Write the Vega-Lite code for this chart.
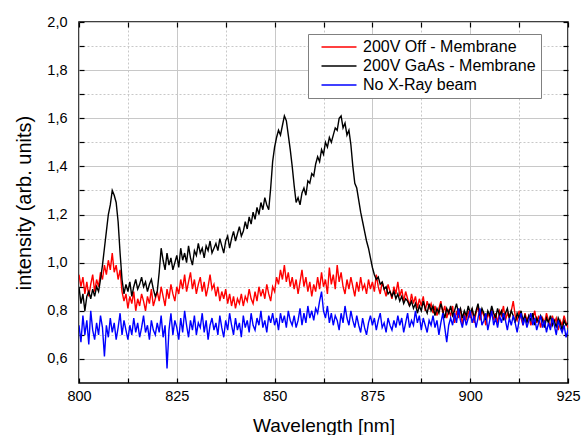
{
"$schema": "https://vega.github.io/schema/vega-lite/v6.json",
"width": 489, "height": 361,
"autosize": "none",
"padding": {"left": 79, "top": 22, "right": 15, "bottom": 52},
"background": "white",
"config": {"font": "Liberation Sans", "view": {"stroke": "black", "strokeWidth": 1.5}},
"data": {"values": [
{"x":800,"r":0.95,"k":0.90,"b":0.74},{"x":800.5,"r":0.90,"k":0.83,"b":0.67},{"x":801,"r":0.94,"k":0.87,"b":0.78},{"x":801.5,"r":0.87,"k":0.80,"b":0.70},{"x":802,"r":0.92,"k":0.86,"b":0.76},{"x":802.5,"r":0.86,"k":0.88,"b":0.66},{"x":803,"r":0.91,"k":0.85,"b":0.80},{"x":803.5,"r":0.95,"k":0.89,"b":0.72},{"x":804,"r":0.88,"k":0.86,"b":0.68},{"x":804.5,"r":0.93,"k":0.90,"b":0.75},
{"x":805,"r":0.90,"k":0.88,"b":0.70},{"x":805.5,"r":0.96,"k":0.93,"b":0.78},{"x":806,"r":0.93,"k":0.99,"b":0.73},{"x":806.5,"r":0.99,"k":1.06,"b":0.61},{"x":807,"r":0.95,"k":1.13,"b":0.74},{"x":807.5,"r":1.01,"k":1.20,"b":0.69},{"x":808,"r":0.97,"k":1.24,"b":0.77},{"x":808.5,"r":1.04,"k":1.30,"b":0.71},{"x":809,"r":0.96,"k":1.28,"b":0.75},{"x":809.5,"r":0.99,"k":1.25,"b":0.68},
{"x":810,"r":0.93,"k":1.17,"b":0.73},{"x":810.5,"r":0.97,"k":1.04,"b":0.79},{"x":811,"r":0.88,"k":0.93,"b":0.70},{"x":811.5,"r":0.84,"k":0.87,"b":0.76},{"x":812,"r":0.87,"k":0.91,"b":0.72},{"x":812.5,"r":0.81,"k":0.88,"b":0.68},{"x":813,"r":0.86,"k":0.92,"b":0.74},{"x":813.5,"r":0.83,"k":0.86,"b":0.70},{"x":814,"r":0.88,"k":0.90,"b":0.77},{"x":814.5,"r":0.80,"k":0.93,"b":0.71},
{"x":815,"r":0.85,"k":0.89,"b":0.75},{"x":815.5,"r":0.82,"k":0.91,"b":0.69},{"x":816,"r":0.87,"k":0.94,"b":0.73},{"x":816.5,"r":0.84,"k":0.90,"b":0.78},{"x":817,"r":0.80,"k":0.92,"b":0.71},{"x":817.5,"r":0.86,"k":0.88,"b":0.74},{"x":818,"r":0.83,"k":0.91,"b":0.68},{"x":818.5,"r":0.89,"k":0.93,"b":0.76},{"x":819,"r":0.82,"k":0.89,"b":0.72},{"x":819.5,"r":0.85,"k":0.86,"b":0.70},
{"x":820,"r":0.88,"k":0.88,"b":0.75},{"x":820.5,"r":0.84,"k":0.96,"b":0.71},{"x":821,"r":0.90,"k":1.06,"b":0.78},{"x":821.5,"r":0.86,"k":1.01,"b":0.69},{"x":822,"r":0.82,"k":0.97,"b":0.74},{"x":822.5,"r":0.89,"k":1.04,"b":0.56},{"x":823,"r":0.85,"k":0.99,"b":0.72},{"x":823.5,"r":0.91,"k":1.02,"b":0.79},{"x":824,"r":0.87,"k":0.97,"b":0.70},{"x":824.5,"r":0.84,"k":1.00,"b":0.76},
{"x":825,"r":0.90,"k":1.03,"b":0.73},{"x":825.5,"r":0.87,"k":0.98,"b":0.68},{"x":826,"r":0.93,"k":1.06,"b":0.77},{"x":826.5,"r":0.89,"k":1.01,"b":0.71},{"x":827,"r":0.95,"k":1.04,"b":0.80},{"x":827.5,"r":0.88,"k":1.00,"b":0.74},{"x":828,"r":0.92,"k":1.07,"b":0.69},{"x":828.5,"r":0.96,"k":1.02,"b":0.76},{"x":829,"r":0.89,"k":0.99,"b":0.72},{"x":829.5,"r":0.93,"k":1.05,"b":0.78},
{"x":830,"r":0.87,"k":1.03,"b":0.70},{"x":830.5,"r":0.91,"k":1.08,"b":0.75},{"x":831,"r":0.94,"k":1.04,"b":0.73},{"x":831.5,"r":0.88,"k":1.06,"b":0.79},{"x":832,"r":0.92,"k":1.02,"b":0.71},{"x":832.5,"r":0.86,"k":1.07,"b":0.76},{"x":833,"r":0.90,"k":1.05,"b":0.68},{"x":833.5,"r":0.95,"k":1.09,"b":0.74},{"x":834,"r":0.89,"k":1.04,"b":0.77},{"x":834.5,"r":0.91,"k":1.06,"b":0.72},
{"x":835,"r":0.86,"k":1.08,"b":0.75},{"x":835.5,"r":0.90,"k":1.05,"b":0.70},{"x":836,"r":0.84,"k":1.10,"b":0.78},{"x":836.5,"r":0.88,"k":1.07,"b":0.73},{"x":837,"r":0.85,"k":1.04,"b":0.69},{"x":837.5,"r":0.89,"k":1.09,"b":0.76},{"x":838,"r":0.83,"k":1.11,"b":0.72},{"x":838.5,"r":0.87,"k":1.06,"b":0.79},{"x":839,"r":0.82,"k":1.10,"b":0.74},{"x":839.5,"r":0.86,"k":1.13,"b":0.70},
{"x":840,"r":0.81,"k":1.09,"b":0.77},{"x":840.5,"r":0.85,"k":1.12,"b":0.72},{"x":841,"r":0.83,"k":1.15,"b":0.75},{"x":841.5,"r":0.87,"k":1.11,"b":0.69},{"x":842,"r":0.82,"k":1.13,"b":0.78},{"x":842.5,"r":0.86,"k":1.17,"b":0.73},{"x":843,"r":0.84,"k":1.14,"b":0.76},{"x":843.5,"r":0.89,"k":1.19,"b":0.71},{"x":844,"r":0.85,"k":1.16,"b":0.79},{"x":844.5,"r":0.83,"k":1.21,"b":0.74},
{"x":845,"r":0.88,"k":1.18,"b":0.72},{"x":845.5,"r":0.84,"k":1.23,"b":0.77},{"x":846,"r":0.90,"k":1.20,"b":0.74},{"x":846.5,"r":0.86,"k":1.25,"b":0.80},{"x":847,"r":0.89,"k":1.22,"b":0.73},{"x":847.5,"r":0.85,"k":1.27,"b":0.76},{"x":848,"r":0.91,"k":1.24,"b":0.71},{"x":848.5,"r":0.87,"k":1.22,"b":0.78},{"x":849,"r":0.84,"k":1.31,"b":0.75},{"x":849.5,"r":0.90,"k":1.42,"b":0.79},
{"x":850,"r":0.88,"k":1.48,"b":0.74},{"x":850.5,"r":0.94,"k":1.52,"b":0.77},{"x":851,"r":0.91,"k":1.55,"b":0.72},{"x":851.5,"r":0.97,"k":1.53,"b":0.79},{"x":852,"r":0.93,"k":1.57,"b":0.75},{"x":852.5,"r":0.99,"k":1.61,"b":0.78},{"x":853,"r":0.92,"k":1.59,"b":0.73},{"x":853.5,"r":0.96,"k":1.53,"b":0.80},{"x":854,"r":0.90,"k":1.47,"b":0.76},{"x":854.5,"r":0.94,"k":1.40,"b":0.74},
{"x":855,"r":0.89,"k":1.32,"b":0.78},{"x":855.5,"r":0.93,"k":1.25,"b":0.73},{"x":856,"r":0.87,"k":1.27,"b":0.76},{"x":856.5,"r":0.92,"k":1.24,"b":0.81},{"x":857,"r":0.97,"k":1.29,"b":0.74},{"x":857.5,"r":0.90,"k":1.31,"b":0.79},{"x":858,"r":0.94,"k":1.28,"b":0.75},{"x":858.5,"r":0.88,"k":1.34,"b":0.82},{"x":859,"r":0.92,"k":1.33,"b":0.77},{"x":859.5,"r":0.86,"k":1.37,"b":0.80},
{"x":860,"r":0.91,"k":1.36,"b":0.76},{"x":860.5,"r":0.88,"k":1.41,"b":0.81},{"x":861,"r":0.94,"k":1.44,"b":0.79},{"x":861.5,"r":0.89,"k":1.42,"b":0.84},{"x":862,"r":0.96,"k":1.47,"b":0.88},{"x":862.5,"r":0.90,"k":1.45,"b":0.80},{"x":863,"r":0.93,"k":1.50,"b":0.77},{"x":863.5,"r":0.87,"k":1.48,"b":0.82},{"x":864,"r":0.98,"k":1.52,"b":0.75},{"x":864.5,"r":0.91,"k":1.50,"b":0.79},
{"x":865,"r":0.95,"k":1.53,"b":0.74},{"x":865.5,"r":0.89,"k":1.56,"b":0.78},{"x":866,"r":0.99,"k":1.55,"b":0.76},{"x":866.5,"r":0.92,"k":1.60,"b":0.72},{"x":867,"r":0.96,"k":1.61,"b":0.79},{"x":867.5,"r":0.90,"k":1.56,"b":0.75},{"x":868,"r":0.87,"k":1.58,"b":0.82},{"x":868.5,"r":0.93,"k":1.53,"b":0.77},{"x":869,"r":0.89,"k":1.55,"b":0.74},{"x":869.5,"r":0.94,"k":1.49,"b":0.80},
{"x":870,"r":0.90,"k":1.40,"b":0.76},{"x":870.5,"r":0.86,"k":1.33,"b":0.73},{"x":871,"r":0.92,"k":1.31,"b":0.78},{"x":871.5,"r":0.88,"k":1.26,"b":0.74},{"x":872,"r":0.94,"k":1.21,"b":0.71},{"x":872.5,"r":0.89,"k":1.17,"b":0.77},{"x":873,"r":0.91,"k":1.13,"b":0.73},{"x":873.5,"r":0.87,"k":1.09,"b":0.70},{"x":874,"r":0.93,"k":1.06,"b":0.75},{"x":874.5,"r":0.89,"k":1.02,"b":0.78},
{"x":875,"r":0.92,"k":0.98,"b":0.74},{"x":875.5,"r":0.88,"k":0.95,"b":0.77},{"x":876,"r":0.95,"k":0.93,"b":0.72},{"x":876.5,"r":0.90,"k":0.94,"b":0.76},{"x":877,"r":0.87,"k":0.91,"b":0.79},{"x":877.5,"r":0.92,"k":0.92,"b":0.73},{"x":878,"r":0.89,"k":0.89,"b":0.75},{"x":878.5,"r":0.86,"k":0.90,"b":0.71},{"x":879,"r":0.91,"k":0.87,"b":0.77},{"x":879.5,"r":0.88,"k":0.88,"b":0.74},
{"x":880,"r":0.85,"k":0.86,"b":0.72},{"x":880.5,"r":0.90,"k":0.88,"b":0.76},{"x":881,"r":0.87,"k":0.85,"b":0.73},{"x":881.5,"r":0.92,"k":0.87,"b":0.78},{"x":882,"r":0.86,"k":0.84,"b":0.74},{"x":882.5,"r":0.89,"k":0.86,"b":0.77},{"x":883,"r":0.84,"k":0.83,"b":0.71},{"x":883.5,"r":0.88,"k":0.85,"b":0.75},{"x":884,"r":0.85,"k":0.84,"b":0.79},{"x":884.5,"r":0.82,"k":0.82,"b":0.73},
{"x":885,"r":0.87,"k":0.84,"b":0.76},{"x":885.5,"r":0.83,"k":0.81,"b":0.74},{"x":886,"r":0.86,"k":0.83,"b":0.80},{"x":886.5,"r":0.81,"k":0.79,"b":0.75},{"x":887,"r":0.85,"k":0.82,"b":0.78},{"x":887.5,"r":0.82,"k":0.80,"b":0.72},{"x":888,"r":0.86,"k":0.84,"b":0.77},{"x":888.5,"r":0.80,"k":0.81,"b":0.74},{"x":889,"r":0.84,"k":0.79,"b":0.71},{"x":889.5,"r":0.81,"k":0.83,"b":0.76},
{"x":890,"r":0.83,"k":0.80,"b":0.74},{"x":890.5,"r":0.79,"k":0.82,"b":0.78},{"x":891,"r":0.82,"k":0.78,"b":0.73},{"x":891.5,"r":0.78,"k":0.81,"b":0.76},{"x":892,"r":0.81,"k":0.79,"b":0.70},{"x":892.5,"r":0.84,"k":0.83,"b":0.75},{"x":893,"r":0.79,"k":0.80,"b":0.79},{"x":893.5,"r":0.82,"k":0.77,"b":0.73},{"x":894,"r":0.77,"k":0.81,"b":0.67},{"x":894.5,"r":0.80,"k":0.79,"b":0.74},
{"x":895,"r":0.78,"k":0.82,"b":0.77},{"x":895.5,"r":0.82,"k":0.78,"b":0.74},{"x":896,"r":0.75,"k":0.80,"b":0.79},{"x":896.5,"r":0.80,"k":0.83,"b":0.75},{"x":897,"r":0.77,"k":0.79,"b":0.81},{"x":897.5,"r":0.81,"k":0.81,"b":0.76},{"x":898,"r":0.74,"k":0.77,"b":0.73},{"x":898.5,"r":0.79,"k":0.80,"b":0.78},{"x":899,"r":0.76,"k":0.78,"b":0.74},{"x":899.5,"r":0.80,"k":0.82,"b":0.77},
{"x":900,"r":0.77,"k":0.79,"b":0.80},{"x":900.5,"r":0.81,"k":0.81,"b":0.75},{"x":901,"r":0.75,"k":0.77,"b":0.78},{"x":901.5,"r":0.79,"k":0.80,"b":0.73},{"x":902,"r":0.82,"k":0.83,"b":0.77},{"x":902.5,"r":0.76,"k":0.78,"b":0.81},{"x":903,"r":0.80,"k":0.81,"b":0.74},{"x":903.5,"r":0.78,"k":0.79,"b":0.76},{"x":904,"r":0.74,"k":0.76,"b":0.79},{"x":904.5,"r":0.79,"k":0.80,"b":0.72},
{"x":905,"r":0.77,"k":0.78,"b":0.76},{"x":905.5,"r":0.81,"k":0.82,"b":0.80},{"x":906,"r":0.76,"k":0.79,"b":0.74},{"x":906.5,"r":0.79,"k":0.77,"b":0.77},{"x":907,"r":0.75,"k":0.81,"b":0.73},{"x":907.5,"r":0.80,"k":0.78,"b":0.78},{"x":908,"r":0.78,"k":0.80,"b":0.75},{"x":908.5,"r":0.82,"k":0.76,"b":0.79},{"x":909,"r":0.76,"k":0.79,"b":0.76},{"x":909.5,"r":0.79,"k":0.81,"b":0.72},
{"x":910,"r":0.77,"k":0.77,"b":0.77},{"x":910.5,"r":0.80,"k":0.80,"b":0.74},{"x":911,"r":0.84,"k":0.78,"b":0.78},{"x":911.5,"r":0.78,"k":0.75,"b":0.75},{"x":912,"r":0.76,"k":0.79,"b":0.71},{"x":912.5,"r":0.80,"k":0.77,"b":0.76},{"x":913,"r":0.77,"k":0.80,"b":0.79},{"x":913.5,"r":0.74,"k":0.76,"b":0.74},{"x":914,"r":0.79,"k":0.78,"b":0.77},{"x":914.5,"r":0.76,"k":0.75,"b":0.73},
{"x":915,"r":0.78,"k":0.78,"b":0.76},{"x":915.5,"r":0.74,"k":0.76,"b":0.79},{"x":916,"r":0.77,"k":0.79,"b":0.74},{"x":916.5,"r":0.80,"k":0.74,"b":0.77},{"x":917,"r":0.75,"k":0.77,"b":0.72},{"x":917.5,"r":0.78,"k":0.75,"b":0.75},{"x":918,"r":0.73,"k":0.78,"b":0.78},{"x":918.5,"r":0.77,"k":0.76,"b":0.73},{"x":919,"r":0.75,"k":0.73,"b":0.76},{"x":919.5,"r":0.79,"k":0.77,"b":0.71},
{"x":920,"r":0.76,"k":0.75,"b":0.75},{"x":920.5,"r":0.73,"k":0.78,"b":0.72},{"x":921,"r":0.78,"k":0.74,"b":0.77},{"x":921.5,"r":0.75,"k":0.76,"b":0.74},{"x":922,"r":0.77,"k":0.73,"b":0.70},{"x":922.5,"r":0.72,"k":0.77,"b":0.76},{"x":923,"r":0.76,"k":0.75,"b":0.73},{"x":923.5,"r":0.74,"k":0.72,"b":0.71},{"x":924,"r":0.78,"k":0.76,"b":0.74},{"x":924.5,"r":0.75,"k":0.74,"b":0.69},
{"x":925,"r":0.73,"k":0.75,"b":0.72}
]},
"transform": [{"fold": ["r", "k", "b"], "as": ["s", "v"]}],
"layer": [
{
"mark": {"type": "line", "strokeWidth": 1.4, "clip": true},
"encoding": {
"x": {"field": "x", "type": "quantitative",
 "scale": {"domain": [800, 925], "nice": false, "zero": false},
 "axis": {"orient": "bottom", "title": "Wavelength [nm]",
  "values": [800, 812.5, 825, 837.5, 850, 862.5, 875, 887.5, 900, 912.5, 925],
  "labelExpr": "datum.value % 25 === 0 ? datum.label : ''",
  "labelFontSize": 14.5, "labelColor": "black", "labelFlush": false, "labelPadding": 11,
  "titleFontSize": 19, "titleFontWeight": "normal", "titleColor": "black", "titlePadding": 14,
  "ticks": true, "tickSize": -5, "tickColor": "black", "tickWidth": 1.2,
  "domain": false,
  "grid": true, "gridColor": "#c8c8c8", "gridWidth": 1,
  "gridDash": {"condition": {"test": "datum.value % 25 === 0", "value": []}, "value": [2, 2]}}},
"y": {"field": "v", "type": "quantitative",
 "scale": {"domain": [0.5, 2.0], "nice": false, "zero": false},
 "axis": {"orient": "left", "title": "intensity (arb. units)",
  "values": [0.6, 0.7, 0.8, 0.9, 1.0, 1.1, 1.2, 1.3, 1.4, 1.5, 1.6, 1.7, 1.8, 1.9, 2.0],
  "labelExpr": "round(datum.value * 10) % 2 === 0 ? replace(format(datum.value, '.1f'), '.', ',') : ''",
  "labelFontSize": 14.5, "labelColor": "black", "labelFlush": false, "labelPadding": 17,
  "titleFontSize": 20, "titleFontWeight": "normal", "titleColor": "black", "titlePadding": 12,
  "ticks": true, "tickSize": -5, "tickColor": "black", "tickWidth": 1.2,
  "domain": false,
  "grid": true, "gridColor": "#c8c8c8", "gridWidth": 1,
  "gridDash": {"condition": {"test": "round(datum.value * 10) % 2 === 0", "value": []}, "value": [2, 2]}}},
"color": {"field": "s", "type": "nominal",
 "scale": {"domain": ["r", "k", "b"], "range": ["#ff0000", "#000000", "#0000ff"]},
 "legend": {"orient": "none", "legendX": 229, "legendY": 12, "title": null,
  "labelExpr": "datum.label === 'r' ? '200V Off - Membrane' : datum.label === 'k' ? '200V GaAs - Membrane' : 'No X-Ray beam'",
  "labelFontSize": 16, "labelColor": "black", "labelLimit": 400,
  "symbolType": "M-3,0H3", "symbolSize": 136, "symbolStrokeWidth": 1.5,
  "symbolOffset": 18, "labelOffset": 16,
  "rowPadding": 3, "padding": 5,
  "strokeColor": "#808080", "fillColor": "white"}}
}
},
{
"mark": {"type": "line", "strokeOpacity": 0},
"encoding": {
"x": {"field": "x", "type": "quantitative",
 "scale": {"domain": [800, 925], "nice": false, "zero": false},
 "axis": {"orient": "top", "title": null, "labels": false, "domain": false, "grid": false,
  "values": [800, 812.5, 825, 837.5, 850, 862.5, 875, 887.5, 900, 912.5, 925],
  "ticks": true, "tickSize": -5, "tickColor": "black", "tickWidth": 1.2}},
"y": {"field": "v", "type": "quantitative",
 "scale": {"domain": [0.5, 2.0], "nice": false, "zero": false},
 "axis": {"orient": "right", "title": null, "labels": false, "domain": false, "grid": false,
  "values": [0.6, 0.7, 0.8, 0.9, 1.0, 1.1, 1.2, 1.3, 1.4, 1.5, 1.6, 1.7, 1.8, 1.9, 2.0],
  "ticks": true, "tickSize": -5, "tickColor": "black", "tickWidth": 1.2}}
}
}
],
"resolve": {"axis": {"x": "independent", "y": "independent"}}
}
